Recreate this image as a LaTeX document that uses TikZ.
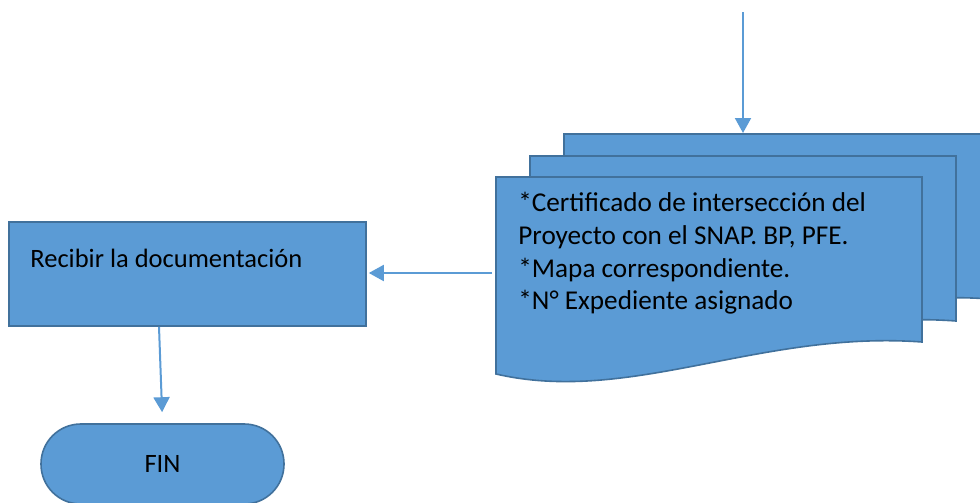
\documentclass[tikz,border=0pt]{standalone}
\usepackage{fontspec}
\setmainfont{Carlito}
\usetikzlibrary{arrows.meta,positioning}
\definecolor{offblue}{HTML}{5B9BD5}
\definecolor{offline}{HTML}{41719C}
\newcommand{\docpage}[2]{%
  \filldraw[page,shift={(#1,#2)}] (496,177) -- (922,177) -- (922,342)
    .. controls (760,330) and (630,405) .. (496,374) -- cycle;}
\begin{document}
\begin{tikzpicture}[
  x=0.5pt,y=-0.5pt,
  font=\fontsize{13.25}{16.35}\selectfont,
  page/.style={fill=offblue,draw=offline,line width=0.8pt},
  proc/.style={draw=offline,fill=offblue,line width=0.8pt,minimum width=178.5pt,minimum height=52pt},
  term/.style={draw=offline,fill=offblue,line width=0.8pt,rounded corners=19.9pt,minimum width=121.5pt,minimum height=40pt},
  txt/.style={inner sep=0pt,align=left},
  arr/.style={-{Triangle[length=7.5pt,width=8pt]},draw=offblue,line width=1pt}]
 \useasboundingbox (0,0) rectangle (980,503);

 % ---- document stack ----
 \docpage{68}{-43}
 \docpage{34}{-21}
 \docpage{0}{0}
 \node[txt,anchor=north west,font=\fontsize{13.6}{16.35}\selectfont] (docs) at (518,192)
   {*Certificado de intersección del\\Proyecto con el SNAP. BP, PFE.\\*Mapa correspondiente.\\*N° Expediente asignado};
 \coordinate (entrada) at (743,12);
 \coordinate (stacktop) at (743,133);
 \coordinate (stackleft) at (492,273);

 % ---- recibir / fin ----
 \node[proc] (recibir) at (187.5,274) {};
 \node[txt,anchor=base west] (recibirtxt) at (30,267) {Recibir la documentación};
 \node[term] (fin) at (162.5,464) {FIN};

 \draw[arr] (entrada) -- (stacktop);
 \draw[arr,shorten >=1pt] (stackleft) -- (recibir.east |- stackleft);
 \draw[arr,shorten >=5.5pt] ([xshift=-14.25pt]recibir.south) -- (fin.north);
\end{tikzpicture}
\end{document}
